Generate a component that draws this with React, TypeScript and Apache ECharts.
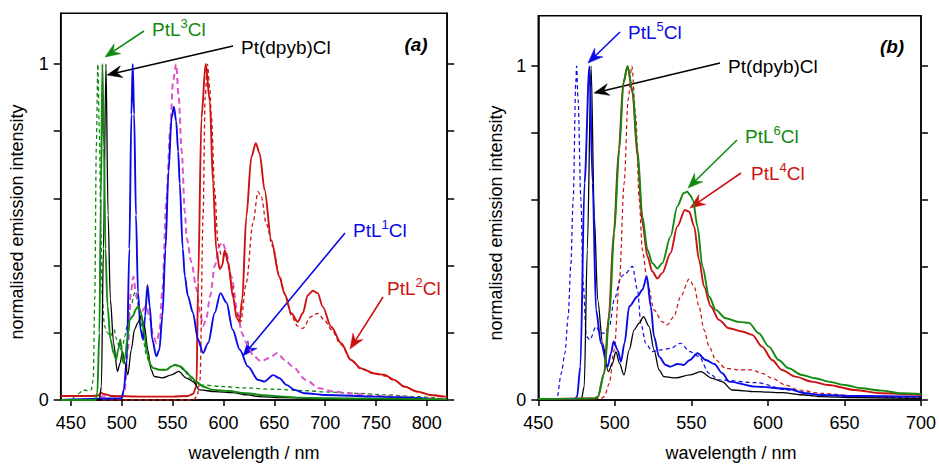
import React, { useEffect, useRef } from "react";
import * as echarts from "echarts";

type P = [number, number];

// ---------- Panel (a) data : [wavelength nm, normalised intensity] ----------
const dpybCl: P[] = [
  [440, 0], [470, 0], [478, 0], [480, 0.04], [482, 0.45], [484.5, 1.0], [486.6, 0.55], [488.8, 0.3],
  [492, 0.17], [495.7, 0.085], [498.5, 0.11], [500.7, 0.145], [503, 0.11], [506, 0.075], [509.4, 0.15],
  [512.6, 0.21], [515.9, 0.23], [518.7, 0.25], [522.4, 0.22], [525.6, 0.15], [528.9, 0.09], [532, 0.07],
  [540, 0.066], [549, 0.075], [556, 0.085], [563.7, 0.065], [570, 0.055], [576.7, 0.03], [592, 0.025],
  [609, 0.022], [624, 0.015], [635, 0.01], [657, 0.007], [700, 0.005], [750, 0.003], [820, 0.002],
];

const ptL3Solid: P[] = [
  [440, 0], [474, 0], [476, 0.02], [478, 0.2], [479.5, 0.6], [481, 1.0], [482.5, 0.75], [484, 0.45],
  [486, 0.28], [489, 0.18], [492, 0.14], [494.5, 0.12], [496.5, 0.15], [498.6, 0.18], [500, 0.15],
  [501.6, 0.11], [503.5, 0.13], [505.5, 0.18], [508, 0.24], [511, 0.25], [514, 0.27], [516.3, 0.28],
  [519, 0.26], [522, 0.2], [525, 0.14], [528, 0.105], [531, 0.095], [537, 0.09], [544, 0.09],
  [549, 0.1], [552.5, 0.105], [558, 0.1], [563, 0.085], [568, 0.07], [573, 0.055], [580, 0.04],
  [590, 0.03], [605, 0.027], [622, 0.02], [640, 0.014], [660, 0.01], [675, 0.007], [700, 0.005],
  [750, 0.004], [820, 0.002],
];

const ptL3Dashed: P[] = [
  [452, 0.005], [455, 0.015], [458, 0.02], [462, 0.03], [466, 0.028], [470, 0.03], [472, 0.06],
  [473.5, 0.3], [475, 0.75], [476.5, 1.0], [478, 0.8], [479.5, 0.5], [481, 0.3], [483, 0.22],
  [486, 0.2], [489, 0.19], [492.5, 0.21], [495, 0.18], [498.3, 0.15], [501, 0.16], [503, 0.19],
  [506, 0.23], [509, 0.28], [513, 0.32], [516, 0.29], [518, 0.25], [521, 0.18], [524.5, 0.13],
  [528, 0.105], [531, 0.095], [537, 0.09], [544, 0.09], [550, 0.104], [556.5, 0.1], [562, 0.085],
  [567, 0.065], [572, 0.052], [577, 0.045], [600, 0.04], [620, 0.036], [650, 0.032], [680, 0.028],
  [700, 0.024], [730, 0.02], [760, 0.015], [790, 0.01], [810, 0.006],
];

const ptL1Solid: P[] = [
  [440, 0], [500, 0.005], [502, 0.03], [505, 0.12], [507.5, 0.45], [509.5, 0.85], [510.8, 1.0],
  [512.2, 0.85], [514, 0.55], [516, 0.32], [518.5, 0.21], [521, 0.18], [523, 0.25], [525.3, 0.342],
  [527.5, 0.28], [530, 0.18], [534, 0.13], [537, 0.15], [540, 0.25], [543, 0.45], [546, 0.68],
  [549, 0.84], [551.3, 0.873], [553.5, 0.83], [555.5, 0.74], [557, 0.645], [560, 0.45], [562, 0.37],
  [565, 0.31], [570, 0.26], [575, 0.18], [580, 0.14], [585, 0.17], [591.5, 0.26], [597, 0.318],
  [603, 0.29], [609, 0.21], [616, 0.15], [624, 0.1], [634, 0.06], [640, 0.055], [649, 0.074],
  [655, 0.065], [662, 0.045], [670, 0.03], [680, 0.02], [700, 0.015], [750, 0.01], [790, 0.006],
  [800, 0.004],
];

const ptL1Dashed: P[] = [
  [478, 0.01], [490, 0.012], [500, 0.01], [503, 0.03], [506, 0.15], [509, 0.32], [511.4, 0.367],
  [514, 0.32], [517, 0.27], [520, 0.265], [524, 0.28], [528, 0.24], [531, 0.19], [534, 0.17],
  [537, 0.2], [540, 0.33], [544, 0.6], [547.5, 0.8], [550.5, 0.95], [553.5, 1.0], [556, 0.9],
  [559, 0.74], [562, 0.56], [564, 0.48], [568.5, 0.41], [573.5, 0.33], [577, 0.26], [580, 0.22],
  [583, 0.24], [587, 0.31], [591.5, 0.4], [596, 0.46], [599, 0.47], [602, 0.45], [607.8, 0.367],
  [614, 0.26], [618, 0.2], [622.5, 0.17], [630, 0.13], [637, 0.115], [645, 0.125], [653, 0.14],
  [660, 0.12], [668, 0.1], [681, 0.06], [694, 0.035], [708, 0.025], [724, 0.02], [750, 0.012],
  [773, 0.01], [800, 0.005], [815, 0.003],
];

const ptL2Solid: P[] = [
  [440, 0.012], [470, 0.012], [477, 0.013], [479.5, 0.022], [482, 0.018], [490, 0.012], [520, 0.01],
  [550, 0.01], [565, 0.012], [570, 0.018], [573.5, 0.04], [575.1, 0.35], [578.4, 0.84], [582.5, 1.0],
  [586.6, 0.89], [589.8, 0.645], [593, 0.446], [596.4, 0.39], [598.7, 0.4], [601.3, 0.446],
  [604.5, 0.41], [609.4, 0.307], [613, 0.245], [615.7, 0.233], [618.5, 0.3], [622.5, 0.546],
  [627.5, 0.724], [631.8, 0.764], [635.6, 0.734], [640.5, 0.625], [647, 0.476], [655, 0.367],
  [660, 0.317], [666.7, 0.258], [673, 0.233], [678, 0.258], [683, 0.312], [687.8, 0.325],
  [692.7, 0.318], [697.6, 0.278], [705.9, 0.218], [715.7, 0.169], [725.5, 0.119], [735.3, 0.094],
  [748.3, 0.079], [758, 0.075], [768, 0.06], [777.7, 0.04], [790.8, 0.025], [804, 0.015],
  [817, 0.01], [820, 0.01],
];

const ptL2Dashed: P[] = [
  [440, 0], [570, 0], [574, 0.01], [577, 0.06], [580, 0.55], [582, 0.9], [584.3, 1.0], [586.5, 0.93],
  [588.2, 0.84], [591.5, 0.62], [594.7, 0.466], [598, 0.43], [600.5, 0.435], [603, 0.42], [608, 0.35],
  [612.7, 0.258], [617, 0.233], [622.5, 0.35], [629, 0.526], [634, 0.62], [637.3, 0.605], [642, 0.526],
  [648.6, 0.456], [655, 0.37], [661, 0.31], [667, 0.25], [673, 0.22], [678, 0.213], [686, 0.248],
  [692.7, 0.258], [699.3, 0.238], [706, 0.21], [715.7, 0.165], [725.5, 0.118], [735.3, 0.092],
  [748.3, 0.078], [758, 0.072], [768, 0.058], [777.7, 0.04], [790.8, 0.025], [804, 0.015], [817, 0.01],
];

// ---------- Panel (b) data ----------
const ptL5Solid: P[] = [
  [450, 0.003], [474, 0.003], [475.3, 0.01], [477.5, 0.1], [480.2, 0.65], [483.4, 1.0], [485.5, 0.65],
  [487.7, 0.27], [491, 0.17], [495.3, 0.1], [497.5, 0.14], [499.2, 0.175], [501.8, 0.15], [504, 0.115],
  [506.3, 0.17], [509.4, 0.28], [514.8, 0.31], [518, 0.33], [520.9, 0.37], [523.5, 0.28], [525.6, 0.19],
  [528.9, 0.13], [533.2, 0.105], [536.4, 0.1], [541, 0.108], [545, 0.105], [549, 0.12], [554, 0.14],
  [559.4, 0.12], [565, 0.108], [570.2, 0.08], [574.6, 0.055], [592, 0.04], [613.6, 0.033],
  [624.4, 0.02], [635, 0.015], [657, 0.012], [700, 0.01],
];

const ptL5Dashed: P[] = [
  [450, 0.002], [461, 0.003], [462.3, 0.008], [465, 0.08], [467.4, 0.14], [469.5, 0.25], [471.2, 0.4],
  [472.8, 0.6], [474.5, 0.95], [475, 1.0], [476, 0.9], [477.8, 0.6], [479.3, 0.35], [481.4, 0.19],
  [483.7, 0.18], [487.7, 0.22], [490.6, 0.2], [493, 0.2], [496.4, 0.22], [499.6, 0.3], [504, 0.369],
  [507.2, 0.38], [511.5, 0.4], [514.8, 0.33], [517, 0.23], [520.2, 0.17], [524.5, 0.145], [530, 0.15],
  [536.4, 0.155], [543, 0.17], [549, 0.145], [555, 0.13], [561.6, 0.08], [568, 0.06], [592, 0.052],
  [613.6, 0.03], [635.2, 0.015], [657, 0.01], [700, 0.005],
];

const ptL6Solid: P[] = [
  [450, 0.003], [487, 0.005], [488.8, 0.01], [493.1, 0.08], [496.4, 0.25], [499.6, 0.5], [502.9, 0.75],
  [505.7, 0.95], [508.3, 1.0], [511.5, 0.93], [514.8, 0.75], [518, 0.55], [521.3, 0.45], [524.5, 0.41],
  [527.8, 0.394], [531, 0.41], [536.4, 0.49], [540.8, 0.58], [545.1, 0.62], [547.3, 0.624], [549, 0.615],
  [551, 0.6], [554, 0.52], [557.2, 0.4], [561.6, 0.31], [565.9, 0.27], [572.4, 0.245], [581, 0.234],
  [587.6, 0.231], [594, 0.2], [600.6, 0.16], [607, 0.12], [613.5, 0.095], [622.2, 0.075], [631, 0.065],
  [639.6, 0.055], [650.4, 0.045], [661.2, 0.035], [674.2, 0.028], [687.2, 0.02], [700, 0.018],
];

const ptL4Solid: P[] = [
  [450, 0.003], [487, 0.005], [489, 0.01], [493, 0.08], [496, 0.25], [499.3, 0.5], [502.6, 0.75],
  [505.5, 0.95], [508.3, 1.0], [511.5, 0.92], [514.8, 0.73], [518, 0.53], [521.3, 0.43], [524.5, 0.385],
  [527.8, 0.364], [531, 0.38], [536.4, 0.44], [540.8, 0.52], [545.8, 0.569], [548.6, 0.564],
  [551.8, 0.52], [555, 0.42], [558.3, 0.34], [562.7, 0.28], [568, 0.24], [574.6, 0.215], [583.2, 0.205],
  [589.7, 0.195], [596.2, 0.16], [602.7, 0.12], [609.2, 0.09], [617.9, 0.07], [628.7, 0.055],
  [639.6, 0.045], [656.9, 0.03], [674, 0.02], [700, 0.015],
];

const ptL4Dashed: P[] = [
  [450, 0.003], [491, 0.005], [493.1, 0.01], [496.4, 0.05], [499.6, 0.15], [502.9, 0.35], [506.1, 0.65],
  [508.7, 0.9], [511.1, 1.0], [513.7, 0.85], [515.9, 0.6], [518, 0.45], [521.3, 0.35], [525.6, 0.27],
  [531, 0.234], [534.3, 0.225], [538.6, 0.25], [543, 0.31], [548.5, 0.362], [551.8, 0.34], [555, 0.28],
  [558.3, 0.21], [561.6, 0.16], [565.9, 0.12], [572.4, 0.095], [581, 0.09], [589.7, 0.09], [596.2, 0.08],
  [602.7, 0.065], [611.4, 0.045], [620, 0.03], [635.2, 0.02], [657, 0.012], [700, 0.008],
];

// ---------- axes ----------
const xTicksA = [450, 500, 550, 600, 650, 700, 750, 800];
const xTicksB = [450, 500, 550, 600, 650, 700];
const yTicks = [0, 0.2, 0.4, 0.6, 0.8, 1.0];
const yLabels = [0, 1];

const FONT = "'Liberation Sans', Arial, Helvetica, sans-serif";
const GREEN = "#128a12";
const BLUE = "#0a0ae6";
const RED = "#cc1111";
const MAGENTA = "#dd55cc";
const BLACK = "#000000";

function arrow(x1: number, y1: number, x2: number, y2: number, color: string) {
  const dx = x2 - x1, dy = y2 - y1;
  const len = Math.sqrt(dx * dx + dy * dy);
  const ux = dx / len, uy = dy / len;
  const px = -uy, py = ux;
  const L = 15, W = 6, N = 10;
  const bx = x2 - L * ux, by = y2 - L * uy;
  const nx = x2 - N * ux, ny = y2 - N * uy;
  return [
    { type: "line", silent: true, shape: { x1, y1, x2: nx, y2: ny }, style: { stroke: color, lineWidth: 1.6 } },
    {
      type: "polygon", silent: true,
      shape: { points: [[x2, y2], [bx + W * px, by + W * py], [nx, ny], [bx - W * px, by - W * py]] },
      style: { fill: color, stroke: color, lineWidth: 0.5 },
    },
  ];
}

const richBase = (color: string) => ({
  m: { fontSize: 19, fontFamily: FONT, fill: color, color, lineHeight: 24 },
  s: { fontSize: 13, fontFamily: FONT, fill: color, color, lineHeight: 13, verticalAlign: "top" },
});

function label(parts: [string, string][], x: number, y: number, color: string) {
  const text = parts.map(([k, t]) => `{${k}|${t}}`).join("");
  return {
    type: "text", silent: true,
    style: {
      text, x, y, fill: color, align: "left", verticalAlign: "middle",
      textAlign: "left", textVerticalAlign: "middle",
      rich: richBase(color),
    },
  };
}

function plainText(text: string, x: number, y: number, opts: any = {}) {
  return {
    type: "text", silent: true, rotation: opts.rotation || 0, x, y,
    style: {
      text, x: 0, y: 0, fill: opts.color || BLACK,
      font: `${opts.style || "normal"} ${opts.weight || "normal"} ${opts.size || 18}px ${FONT}`,
      align: opts.align || "center", verticalAlign: "middle",
      textAlign: opts.align || "center", textVerticalAlign: "middle",
    },
  };
}

function line(name: string, data: P[], idx: number, color: string, width: number, dashed: boolean, dash?: number[]) {
  return {
    name, type: "line", xAxisIndex: idx, yAxisIndex: idx * 2, data,
    showSymbol: false, symbol: "none", smooth: 0.3, smoothMonotone: "x",
    lineStyle: { color, width, type: dashed ? (dash || [4, 3]) : "solid" },
    silent: true, z: dashed ? 2 : 3,
  };
}

const GA = { left: 60.7, top: 13.3, width: 386.5, height: 386.7 };
const GB = { left: 538.3, top: 15.7, width: 385.5, height: 384.3 };

function xAxis(idx: number, min: number, max: number, ticks: number[]) {
  return {
    type: "value", gridIndex: idx, min, max,
    axisLine: { show: true, onZero: false, lineStyle: { color: BLACK, width: 1.5 } },
    axisTick: { show: true, inside: false, length: 6, customValues: ticks, lineStyle: { color: BLACK, width: 1.5 } },
    axisLabel: { show: true, customValues: ticks, color: BLACK, fontSize: 18, fontFamily: FONT, margin: 14 },
    splitLine: { show: false },
  };
}

function yAxes(idx: number) {
  const common = {
    type: "value", gridIndex: idx, min: 0, max: 1.151,
    axisLine: { show: true, onZero: false, lineStyle: { color: BLACK, width: 1.5 } },
    axisTick: { show: true, inside: false, length: 7, customValues: yTicks, lineStyle: { color: BLACK, width: 1.5 } },
    splitLine: { show: false },
  };
  return [
    { ...common, position: "left", axisLabel: { show: true, customValues: yLabels, color: BLACK, fontSize: 18, fontFamily: FONT, margin: 12 } },
    { ...common, position: "right", axisLabel: { show: false } },
  ];
}

export default function App() {
  const ref = useRef<HTMLDivElement>(null);
  useEffect(() => {
    if (!ref.current) return;
    const chart = echarts.init(ref.current, undefined, { renderer: "svg" });
    const graphic: any[] = [
      // panel (a)
      label([["m", "PtL"], ["s", "3"], ["m", "Cl"]], 152, 29, GREEN),
      ...arrow(144, 31, 105, 57, GREEN),
      label([["m", "Pt(dpyb)Cl"]], 241, 47, BLACK),
      ...arrow(233, 46, 107, 75, BLACK),
      label([["m", "PtL"], ["s", "1"], ["m", "Cl"]], 353, 230, BLUE),
      ...arrow(345, 233, 243, 356, BLUE),
      label([["m", "PtL"], ["s", "2"], ["m", "Cl"]], 387, 288, RED),
      ...arrow(383, 297, 350, 349, RED),
      plainText("(a)", 416, 44, { style: "italic", weight: "bold", size: 19 }),
      plainText("normalised emission intensity", 17, 222, { rotation: Math.PI / 2 }),
      plainText("wavelength / nm", 254, 453),
      // panel (b)
      label([["m", "PtL"], ["s", "5"], ["m", "Cl"]], 628, 32, BLUE),
      ...arrow(620, 32, 588, 63, BLUE),
      label([["m", "Pt(dpyb)Cl"]], 728, 66, BLACK),
      ...arrow(720, 63, 594, 93, BLACK),
      label([["m", "PtL"], ["s", "6"], ["m", "Cl"]], 745, 136, GREEN),
      ...arrow(737, 140, 688, 188, GREEN),
      label([["m", "PtL"], ["s", "4"], ["m", "Cl"]], 751, 173, RED),
      ...arrow(741, 173, 690, 208, RED),
      plainText("(b)", 892, 46, { style: "italic", weight: "bold", size: 19 }),
      plainText("normalised emission intensity", 496, 223, { rotation: Math.PI / 2 }),
      plainText("wavelength / nm", 731, 453),
    ];

    chart.setOption({
      animation: false,
      backgroundColor: "#ffffff",
      textStyle: { fontFamily: FONT },
      grid: [
        { ...GA, show: true, borderColor: BLACK, borderWidth: 1.5, backgroundColor: "transparent" },
        { ...GB, show: true, borderColor: BLACK, borderWidth: 1.5, backgroundColor: "transparent" },
      ],
      xAxis: [xAxis(0, 440, 820, xTicksA), xAxis(1, 450, 700, xTicksB)],
      yAxis: [...yAxes(0), ...yAxes(1)],
      series: [
        line("PtL3Cl dashed", ptL3Dashed, 0, GREEN, 1.3, true),
        line("PtL1Cl dashed", ptL1Dashed, 0, MAGENTA, 2, true, [6, 4]),
        line("PtL2Cl dashed", ptL2Dashed, 0, RED, 1.3, true),
        line("PtL2Cl", ptL2Solid, 0, RED, 1.9, false),
        line("PtL1Cl", ptL1Solid, 0, BLUE, 1.9, false),
        line("Pt(dpyb)Cl", dpybCl, 0, BLACK, 1.3, false),
        line("PtL3Cl", ptL3Solid, 0, GREEN, 1.9, false),

        line("PtL5Cl dashed", ptL5Dashed, 1, BLUE, 1.2, true),
        line("PtL4Cl dashed", ptL4Dashed, 1, RED, 1.2, true),
        line("Pt(dpyb)Cl b", dpybCl, 1, BLACK, 1.3, false),
        line("PtL5Cl", ptL5Solid, 1, BLUE, 1.9, false),
        line("PtL4Cl", ptL4Solid, 1, RED, 1.9, false),
        line("PtL6Cl", ptL6Solid, 1, GREEN, 1.9, false),
      ],
      graphic,
    });
    return () => chart.dispose();
  }, []);
  return (
    <div
      ref={ref}
      style={{ position: "fixed", left: 0, top: 0, width: 939, height: 465, background: "#fff" }}
    />
  );
}
